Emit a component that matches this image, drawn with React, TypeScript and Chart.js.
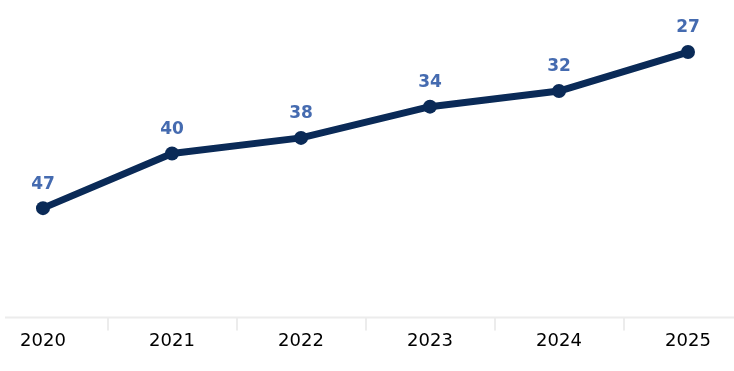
import React, { useEffect, useRef } from "react";
import { Chart, registerables } from "chart.js";

Chart.register(...registerables);

const years = ["2020", "2021", "2022", "2023", "2024", "2025"];
const values = [47, 40, 38, 34, 32, 27];

const LINE_COLOR = "#0a2a57";
const LABEL_COLOR = "#456bb0";

const extrasPlugin = {
  id: "extras",
  beforeDraw(chart: any) {
    const { ctx, chartArea } = chart;
    ctx.save();
    ctx.strokeStyle = "#ececec";
    ctx.lineWidth = 2;
    ctx.beginPath();
    ctx.moveTo(5, chartArea.bottom);
    ctx.lineTo(chart.width, chartArea.bottom);
    ctx.stroke();
    ctx.restore();
  },
  afterDatasetsDraw(chart: any) {
    const { ctx } = chart;
    const meta = chart.getDatasetMeta(0);
    const data = chart.data.datasets[0].data;
    ctx.save();
    ctx.fillStyle = LABEL_COLOR;
    ctx.font = "bold 17px 'DejaVu Sans'";
    ctx.textAlign = "center";
    ctx.textBaseline = "middle";
    meta.data.forEach((pt: any, i: number) => {
      ctx.fillText(String(data[i]), pt.x, pt.y - 24);
    });
    ctx.restore();
  },
};

export default function App() {
  const ref = useRef<HTMLCanvasElement>(null);
  useEffect(() => {
    if (!ref.current) return;
    const chart = new Chart(ref.current, {
      type: "line",
      data: {
        labels: years,
        datasets: [
          {
            data: values,
            borderColor: LINE_COLOR,
            backgroundColor: LINE_COLOR,
            borderWidth: 7,
            pointRadius: 7,
            pointBorderWidth: 0,
            pointBackgroundColor: LINE_COLOR,
            tension: 0,
            borderCapStyle: "round",
            borderJoinStyle: "round",
          },
        ],
      },
      options: {
        animation: false,
        responsive: false,
        maintainAspectRatio: false,
        layout: { padding: { left: 43, right: 46, top: 13, bottom: 19 } },
        plugins: {
          legend: { display: false },
          tooltip: { enabled: false },
        },
        scales: {
          x: {
            offset: false,
            border: { display: false },
            grid: {
              offset: true,
              drawOnChartArea: false,
              drawTicks: true,
              tickLength: 13,
              color: "#ececec",
              lineWidth: 2,
            },
            ticks: {
              color: "#000000",
              font: { family: "'DejaVu Sans'", size: 18 },
              padding: 0,
              maxRotation: 0,
              autoSkip: false,
            },
          },
          y: {
            display: false,
            reverse: true,
            min: 22,
            max: 61,
          },
        },
      },
      plugins: [extrasPlugin],
    });
    return () => chart.destroy();
  }, []);
  return (
    <div style={{ position: "fixed", left: 0, top: 0, width: 734, height: 371, background: "#fff" }}>
      <canvas ref={ref} width={734} height={371} style={{ width: 734, height: 371 }} />
    </div>
  );
}
